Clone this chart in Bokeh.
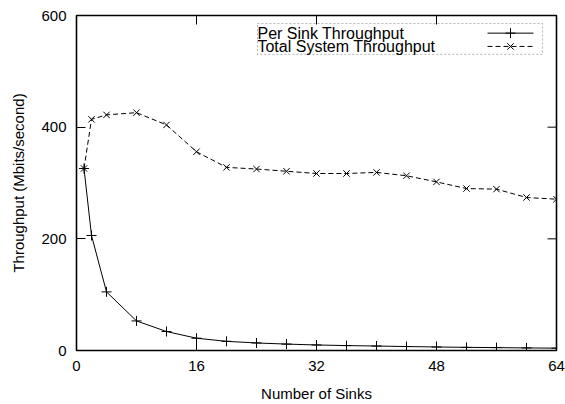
import math
from bokeh.plotting import figure
from bokeh.models import Range1d, FixedTicker, BoxAnnotation, Label
from bokeh.embed import file_html
from bokeh.resources import INLINE

# ---- data ----
sinks = [1, 2, 4, 8, 12, 16, 20, 24, 28, 32, 36, 40, 44, 48, 52, 56, 60, 64]
per_sink = [326, 206, 105, 53, 34, 22, 16.4, 13.5, 11.5, 9.9, 8.8, 8.0, 7.1, 6.3, 5.6, 5.2, 4.6, 4.2]
total = [326, 414, 422, 426, 404, 356, 328, 325, 321, 317, 317, 319, 313, 302, 290, 289, 274, 271]
x_ticks = [0, 16, 32, 48, 64]
y_ticks = [0, 200, 400, 600]
series_names = ["Per Sink Throughput", "Total System Throughput"]

FONT = "Liberation Sans"
X_MIN, X_MAX = 0, 64
Y_MIN, Y_MAX = 0, 600

p = figure(width=565, height=404, output_backend="svg", toolbar_location=None,
           x_range=Range1d(X_MIN, X_MAX), y_range=Range1d(Y_MIN, Y_MAX),
           min_border_left=76, min_border_right=9, min_border_top=15, min_border_bottom=53)
p.background_fill_color = "white"
p.border_fill_color = "white"
p.outline_line_color = "black"
p.outline_line_width = 1.6
p.xgrid.visible = False
p.ygrid.visible = False

def style_axis(ax, ticks):
    ax.ticker = FixedTicker(ticks=ticks)
    ax.major_tick_in = 9
    ax.major_tick_out = 0
    ax.minor_tick_in = 0
    ax.minor_tick_out = 0
    ax.major_tick_line_color = "black"
    ax.major_tick_line_width = 1
    ax.axis_line_color = None
    ax.major_label_text_font = FONT
    ax.major_label_text_color = "black"
    ax.major_label_text_font_size = "15px"
    ax.major_label_standoff = 10
    ax.axis_label_text_font = FONT
    ax.axis_label_text_font_size = "15px"
    ax.axis_label_text_font_style = "normal"
    ax.axis_label_text_color = "black"
    ax.axis_label_standoff = 11

style_axis(p.xaxis[0], x_ticks)
style_axis(p.yaxis[0], y_ticks)
p.xaxis.axis_label = "Number of Sinks"
p.yaxis.axis_label = "Throughput (Mbits/second)"

# mirrored inward ticks on the top and right edges (gnuplot style)
p.ray(x=x_ticks, y=[Y_MAX] * len(x_ticks), length=9, length_units="screen",
      angle=-math.pi / 2, line_color="black", line_width=1)
p.ray(x=[X_MAX] * len(y_ticks), y=y_ticks, length=9, length_units="screen",
      angle=math.pi, line_color="black", line_width=1)

# ---- series ----
p.line(sinks, per_sink, line_color="black", line_width=1)
p.scatter(sinks, per_sink, marker="cross", size=10, line_color="black", line_width=1)
p.line(sinks, total, line_color="black", line_width=1, line_dash="5 3")
p.scatter(sinks, total, marker="x", size=9, line_color="black", line_width=1)

# ---- gnuplot-style key (text left, sample right) ----
key_left, key_right, key_top, key_bottom = 24.13, 62.13, 585.7, 530.4
row_y = [568.4, 544.6]
samp_x0, samp_x1, samp_mid = 54.8, 60.93, 57.87
p.add_layout(BoxAnnotation(left=key_left, right=key_right, top=key_top, bottom=key_bottom,
                           fill_color=None, line_color="black", line_width=1, line_dash="2 2"))
for name, yy in zip(series_names, row_y):
    p.add_layout(Label(x=key_left, y=yy, text=name, text_font=FONT, text_font_size="16px",
                       text_baseline="middle", text_align="left", text_color="black"))
p.line([samp_x0, samp_x1], [row_y[0]] * 2, line_color="black", line_width=1)
p.scatter([samp_mid], [row_y[0]], marker="cross", size=10, line_color="black", line_width=1)
p.line([samp_x0, samp_x1], [row_y[1]] * 2, line_color="black", line_width=1, line_dash="5 3")
p.scatter([samp_mid], [row_y[1]], marker="x", size=9, line_color="black", line_width=1)

open("out.html", "w").write(file_html(p, INLINE))
